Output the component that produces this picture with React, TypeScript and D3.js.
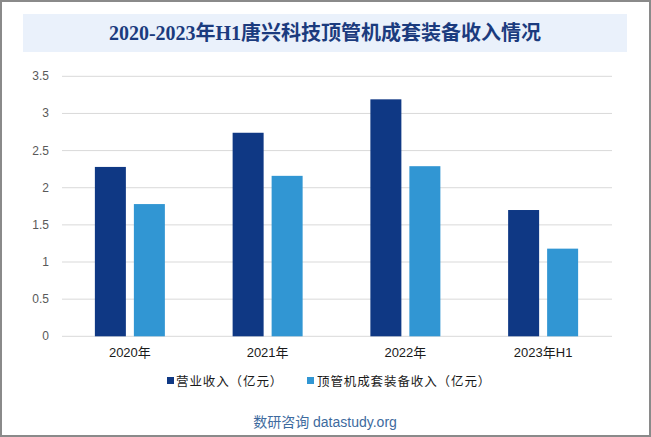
import React from "react";
import * as d3 from "d3";

const categories = ["2020年", "2021年", "2022年", "2023年H1"];
const revenue = [2.28, 2.74, 3.19, 1.70];
const equipRevenue = [1.78, 2.16, 2.29, 1.18];
const yTicks = [0, 0.5, 1, 1.5, 2, 2.5, 3, 3.5];
const seriesNames = ["营业收入（亿元）", "顶管机成套装备收入（亿元）"];
const title = "2020-2023年H1唐兴科技顶管机成套装备收入情况";
const source = "数研咨询 datastudy.org";

const W = 651;
const H = 437;
const colors = ["#0f3884", "#3196d3"];

export default function App() {
  const x0 = d3.scaleBand<string>().domain(categories).range([62, 613]).padding(0);
  const y = d3.scaleLinear().domain([0, 3.5]).range([336.3, 76.3]);
  const barW = 31;
  const gap = 8;
  const series = [revenue, equipRevenue];
  return (
    <div style={{ position: "absolute", left: 0, top: 0 }}>
      <svg width={W} height={H} style={{ display: "block" }}>
        <rect x={0} y={0} width={W} height={H} fill="#fff" />
        <rect x={1} y={1} width={W - 2} height={H - 2} fill="none" stroke="#8a8a8a" strokeWidth={2} />
        <rect x={23} y={14} width={604} height={38} fill="#eaf1fb" />
        <text
          x={325}
          y={40}
          textAnchor="middle"
          fontFamily="'Liberation Serif', 'Noto Sans CJK SC', serif"
          fontWeight="bold"
          fontSize={20}
          fill="#1b3b7e"
        >
          {title}
        </text>
        {yTicks.map((t) => (
          <g key={t}>
            <line x1={62} x2={612} y1={y(t)} y2={y(t)} stroke="#d9d9d9" strokeWidth={1} />
            <text
              x={49}
              y={y(t) + 4}
              textAnchor="end"
              fontFamily="'Liberation Sans', Arial, sans-serif"
              fontSize={12}
              fill="#595959"
            >
              {t}
            </text>
          </g>
        ))}
        {categories.map((c, i) => {
          const cx = (x0(c) as number) + x0.bandwidth() / 2 - 1;
          return (
            <g key={c}>
              {series.map((s, k) => {
                const bx = cx - gap / 2 - barW + k * (barW + gap);
                return (
                  <rect
                    key={k}
                    x={bx}
                    y={y(s[i])}
                    width={barW}
                    height={y(0) - y(s[i])}
                    fill={colors[k]}
                  />
                );
              })}
              <text
                x={cx}
                y={357}
                textAnchor="middle"
                fontFamily="'Liberation Sans', Arial, 'Noto Sans CJK SC', sans-serif"
                fontSize={13}
                fill="#1a1a1a"
              >
                {c}
              </text>
            </g>
          );
        })}
        <g fontFamily="'Liberation Sans', Arial, 'Noto Sans CJK SC', sans-serif" fontSize={12.5} fill="#1a1a1a" letterSpacing={0.9}>
          <rect x={167} y={377} width={7} height={7} fill={colors[0]} />
          <text x={176} y={386}>{seriesNames[0]}</text>
          <rect x={307} y={377} width={7} height={7} fill={colors[1]} />
          <text x={317} y={386}>{seriesNames[1]}</text>
        </g>
        <text
          x={325}
          y={427}
          textAnchor="middle"
          fontFamily="'Liberation Sans', Arial, 'Noto Sans CJK SC', sans-serif"
          fontSize={14}
          fill="#3d6a9e"
        >
          {source}
        </text>
      </svg>
    </div>
  );
}
